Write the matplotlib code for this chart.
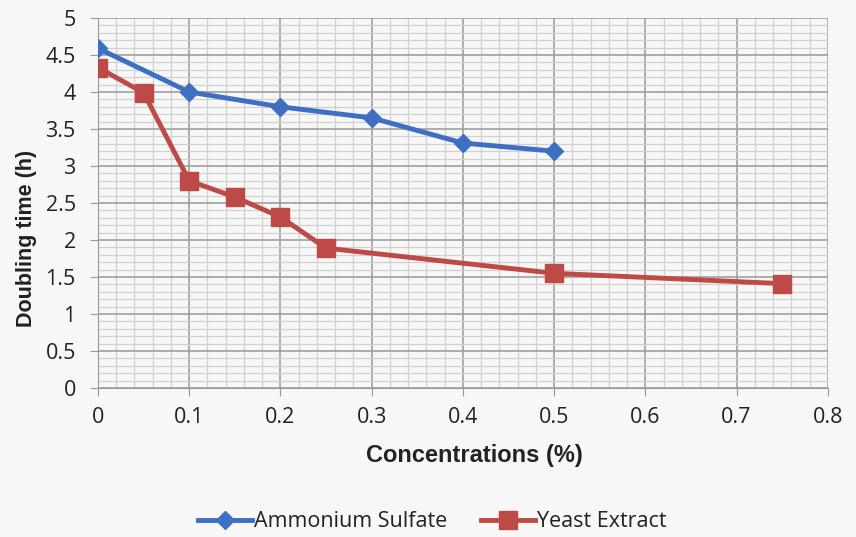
import numpy as np
import matplotlib.pyplot as plt
from matplotlib.ticker import MultipleLocator

# data
amm_x = [0, 0.1, 0.2, 0.3, 0.4, 0.5]
amm_y = [4.59, 4.0, 3.80, 3.65, 3.31, 3.20]
yeast_x = [0, 0.05, 0.1, 0.15, 0.2, 0.25, 0.5, 0.75]
yeast_y = [4.33, 3.99, 2.80, 2.58, 2.31, 1.89, 1.55, 1.41]

bg = '#f7f7f7'
fig = plt.figure(figsize=(8.56, 5.37), dpi=100, facecolor=bg)
ax = fig.add_axes([0.1145, 0.2775, 0.8525, 0.689])
ax.set_facecolor(bg)

ax.plot(amm_x, amm_y, color='#3d6fc2', lw=3.5, marker='D', ms=9,
        label='Ammonium Sulfate', zorder=3)
ax.plot(yeast_x, yeast_y, color='#bd4a47', lw=3.5, marker='s', ms=13,
        label='Yeast Extract', zorder=3)

ax.set_xlim(0, 0.8)
ax.set_ylim(0, 5)
ax.xaxis.set_major_locator(MultipleLocator(0.1))
ax.xaxis.set_minor_locator(MultipleLocator(0.02))
ax.yaxis.set_major_locator(MultipleLocator(0.5))
ax.yaxis.set_minor_locator(MultipleLocator(0.1))
ax.xaxis.set_major_formatter(plt.FuncFormatter(lambda v, p: f'{v:g}'))
ax.yaxis.set_major_formatter(plt.FuncFormatter(lambda v, p: f'{v:g}'))

# excel style grid
ax.grid(which='major', color='#a0a0a0', lw=1.2)
ax.grid(which='minor', color='#d0d0d0', lw=0.9)
ax.set_axisbelow(True)
for s in ['top', 'right']:
    ax.spines[s].set_visible(False)
for s in ['left', 'bottom']:
    ax.spines[s].set_color('#999999')
ax.tick_params(which='major', length=6, color='#999999', labelsize=15.5,
               labelcolor='#222222')
ax.tick_params(which='minor', length=0)
ax.tick_params(axis='x', pad=8)
ax.tick_params(axis='y', pad=10)
for lbl in ax.get_xticklabels() + ax.get_yticklabels():
    lbl.set_family('Open Sans')

ax.set_xlabel('Concentrations (%)', fontsize=17, fontweight='bold',
              family='Liberation Sans', color='#222222')
ax.set_ylabel('Doubling time (h)', fontsize=15.5, fontweight='bold',
              family='Liberation Sans', color='#222222')
ax.xaxis.set_label_coords(0.516, -0.152)
ax.yaxis.set_label_coords(-0.084, 0.405)

fig.legend(loc='center', bbox_to_anchor=(0.505, 0.028), ncol=2, frameon=False,
           prop={'family': 'Open Sans', 'size': 15.5}, handlelength=2.5,
           handletextpad=0.1, columnspacing=1.6, labelcolor='#222222')

fig.savefig('out.png', dpi=100, facecolor=bg)
